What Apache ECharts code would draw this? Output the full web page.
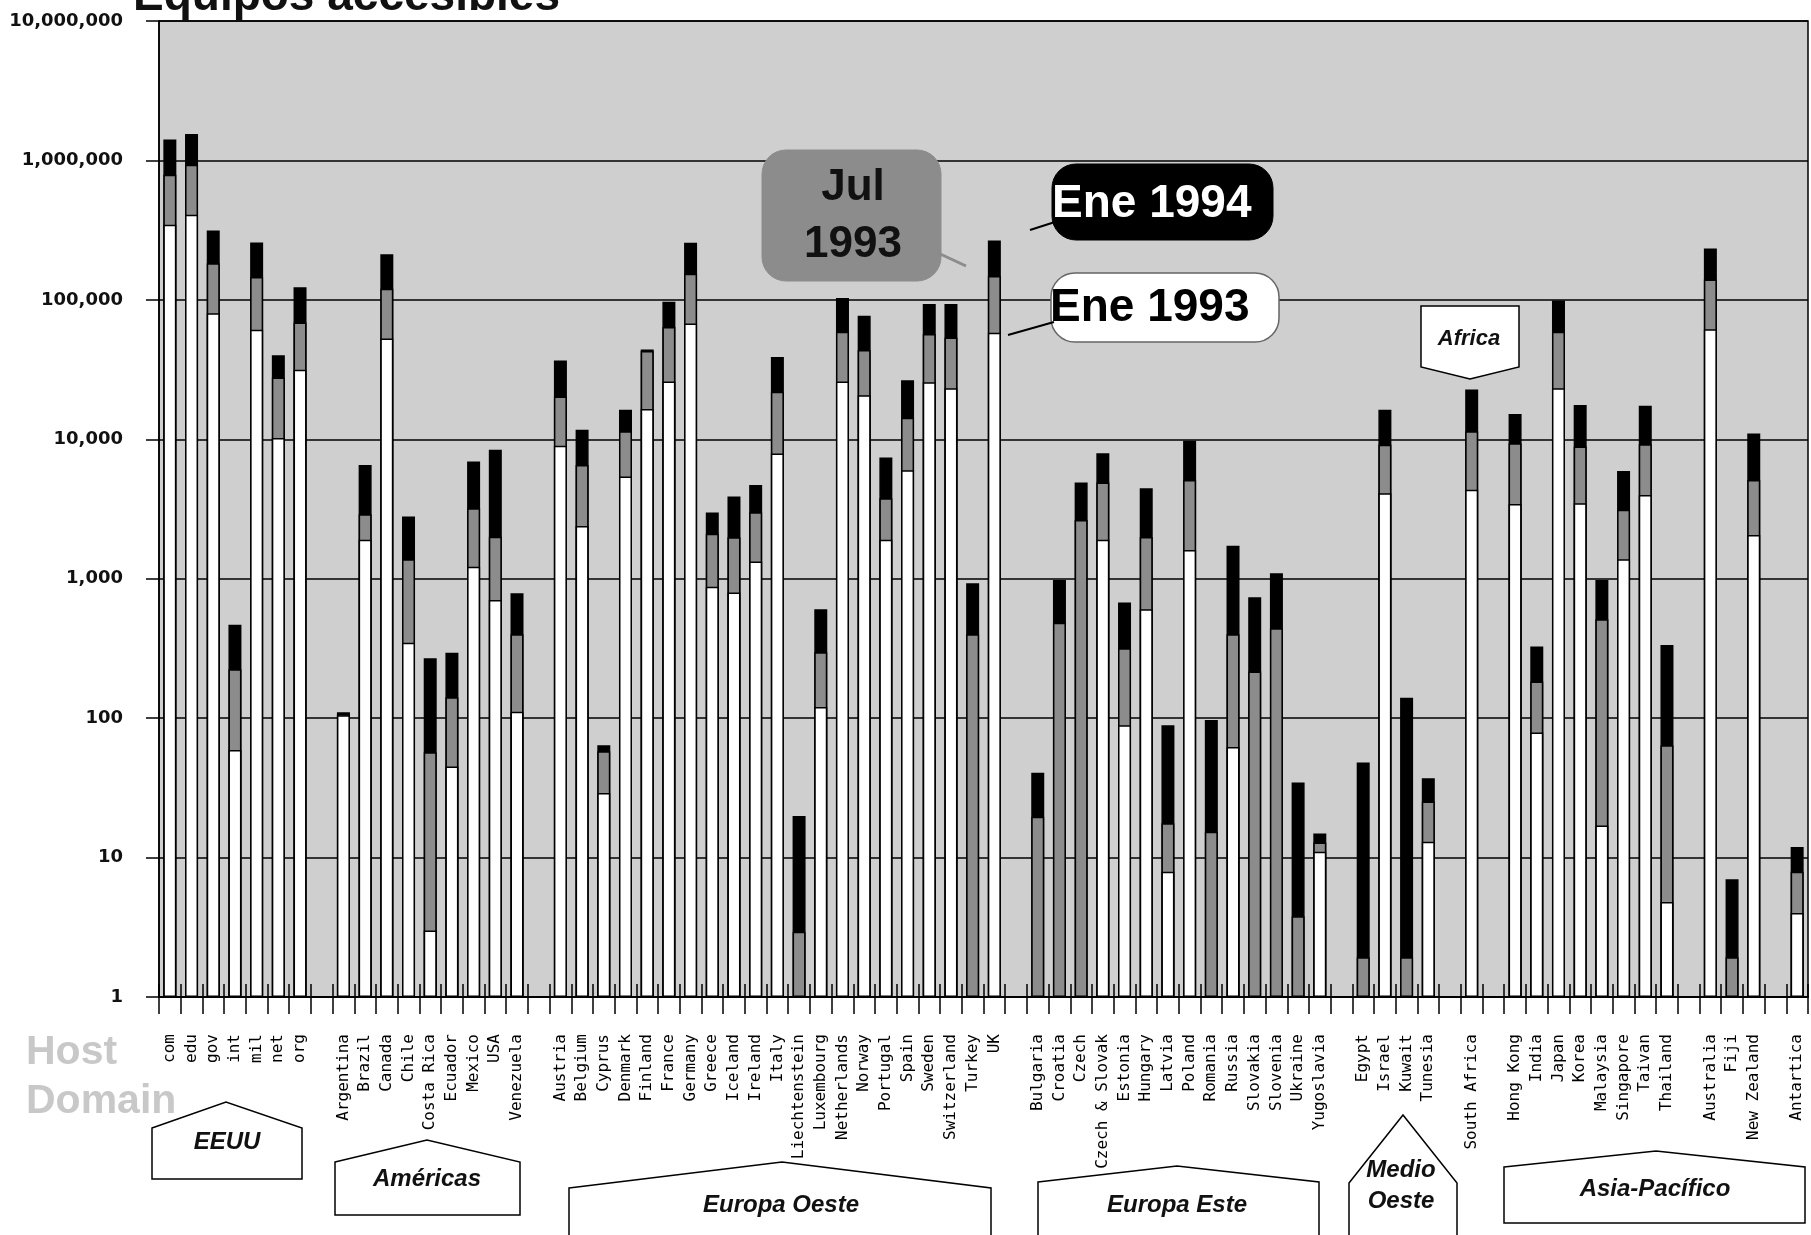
<!DOCTYPE html>
<html>
<head>
<meta charset="utf-8">
<script src="https://cdn.jsdelivr.net/npm/echarts@6/dist/echarts.min.js"></script>
<style>
html,body{margin:0;padding:0;background:#fff;}
#chart{width:1811px;height:1235px;}
</style>
</head>
<body>
<div id="chart"></div>
<script>
// ---- data (empty strings are the spacer slots between regions) ----
const categories = [
  'com','edu','gov','int','mil','net','org','',
  'Argentina','Brazil','Canada','Chile','Costa Rica','Ecuador','Mexico','USA','Venezuela','',
  'Austria','Belgium','Cyprus','Denmark','Finland','France','Germany','Greece','Iceland','Ireland','Italy','Liechtenstein','Luxembourg','Netherlands','Norway','Portugal','Spain','Sweden','Switzerland','Turkey','UK','',
  'Bulgaria','Croatia','Czech','Czech & Slovak','Estonia','Hungary','Latvia','Poland','Romania','Russia','Slovakia','Slovenia','Ukraine','Yugoslavia','',
  'Egypt','Israel','Kuwait','Tunesia','',
  'South Africa','',
  'Hong Kong','India','Japan','Korea','Malaysia','Singapore','Taivan','Thailand','',
  'Australia','Fiji','New Zealand','',
  'Antartica'
];

const ene1993 = [
  345000,408000,80000,59,61000,10200,31500,null,
  105,1900,52800,348,3,45,1220,705,111,null,
  9000,2390,29,5400,16500,26000,67600,877,795,1330,7900,null,120,26000,20700,1900,6000,25600,23200,null,58000,null,
  null,null,null,1900,89,604,7.9,1610,null,62,null,null,null,11,null,
  null,4100,null,13,null,
  4340,null,
  3440,79,23200,3480,17,1380,3990,4.8,null,
  61500,null,2060,null,
  4
];

const jul1993 = [
  789000,930000,183000,224,146000,27700,68800,null,
  107,2900,120000,1380,57,141,3200,2000,400,null,
  20300,6550,58,11400,43000,64000,154000,2100,1980,3000,21900,2.94,297,59000,43600,3780,14300,57000,53800,400,148000,null,
  19.6,484,2640,4890,317,1990,17.6,5110,15.3,400,216,442,3.8,12.8,null,
  1.93,9120,1.93,25.2,null,
  11400,null,
  9380,183,59000,8870,512,3120,9220,64,null,
  140000,1.93,5110,null,
  7.9
];

const ene1994 = [
  1410000,1550000,314000,467,258000,40000,123000,null,
  110,6550,212000,2790,269,295,6920,8400,787,null,
  36700,11700,64,16300,44000,97000,257000,2980,3880,4710,38900,19.9,604,103000,77000,7390,26500,93500,93500,929,267000,null,
  40.6,980,4890,7950,674,4460,89,9780,97,1720,737,1095,34.5,14.9,null,
  48,16300,140,37,null,
  22800,null,
  15200,326,99000,17600,980,5930,17400,335,null,
  234000,7.0,11000,null,
  11.9
];

const yTickLabels = ['1','10','100','1,000','10,000','100,000','1,000,000','10,000,000'];
const seriesNames = ['Ene 1994','Jul 1993','Ene 1993'];
const regionNames = ['EEUU','Américas','Europa Oeste','Europa Este','Medio Oeste','Africa','Asia-Pacífico'];

// ---- chart ----
const chart = echarts.init(document.getElementById('chart'), null, {renderer:'canvas'});

function txt(text, x, y, font, fill, align, valign){
  return {type:'text', z:100, style:{text:text, x:x, y:y, font:font, fill:fill,
    textAlign:align||'center', textVerticalAlign:valign||'middle',
    align:align||'center', verticalAlign:valign||'middle'}};
}
function poly(points, fill){
  return {type:'polygon', z:90, shape:{points:points}, style:{fill:fill||'#fff', stroke:'#000', lineWidth:1.5}};
}
function line(x1,y1,x2,y2,color,w){
  return {type:'line', z:95, shape:{x1:x1,y1:y1,x2:x2,y2:y2}, style:{stroke:color, lineWidth:w||2}};
}
const labFont = 'italic bold 24px "Liberation Sans", Arial, sans-serif';
const callFont = 'bold 46px "Liberation Sans", Arial, sans-serif';

const graphics = [
  // title (cut off at top as in the original)
  txt('Equipos accesibles', 133, -3, 'bold 46px "Liberation Sans", Arial, sans-serif', '#111', 'left', 'middle'),
  // Host Domain
  txt('Host', 26, 1053, 'bold 41px "Liberation Sans", Arial, sans-serif', '#c8c8c8', 'left', 'middle'),
  txt('Domain', 26, 1102, 'bold 41px "Liberation Sans", Arial, sans-serif', '#c8c8c8', 'left', 'middle'),
  // callouts
  {type:'rect', z:90, shape:{x:762,y:150,width:179,height:131,r:24}, style:{fill:'#8c8c8c', stroke:'#8c8c8c'}},
  line(936,252,966,266,'#8c8c8c',3),
  txt('Jul', 853, 188, 'bold 44px "Liberation Sans", Arial, sans-serif', '#111'),
  txt('1993', 853, 245, 'bold 44px "Liberation Sans", Arial, sans-serif', '#111'),
  {type:'rect', z:90, shape:{x:1052,y:164,width:221,height:76,r:24}, style:{fill:'#000', stroke:'#000'}},
  line(1030,230,1058,221,'#000',2),
  txt(seriesNames[0], 1052, 204, callFont, '#fff', 'left', 'middle'),
  {type:'rect', z:90, shape:{x:1051,y:273,width:228,height:69,r:24}, style:{fill:'#fff', stroke:'#666', lineWidth:1.5}},
  line(1008,335,1054,322,'#000',2),
  txt(seriesNames[2], 1050, 308, callFont, '#000', 'left', 'middle'),
  // region boxes
  poly([[152,1128],[226,1102],[302,1128],[302,1179],[152,1179]]),
  txt(regionNames[0], 227, 1142, labFont, '#111'),
  poly([[335,1162],[427,1140],[520,1162],[520,1215],[335,1215]]),
  txt(regionNames[1], 427, 1179, labFont, '#111'),
  poly([[569,1188],[782,1162],[991,1188],[991,1245],[569,1245]]),
  txt(regionNames[2], 781, 1205, labFont, '#111'),
  poly([[1038,1182],[1177,1166],[1319,1182],[1319,1245],[1038,1245]]),
  txt(regionNames[3], 1177, 1205, labFont, '#111'),
  poly([[1349,1183],[1403,1115],[1457,1183],[1457,1245],[1349,1245]]),
  txt('Medio', 1401, 1170, labFont, '#111'),
  txt('Oeste', 1401, 1201, labFont, '#111'),
  poly([[1421,306],[1519,306],[1519,367],[1470,379],[1421,367]]),
  txt(regionNames[5], 1469, 339, 'italic bold 22px "Liberation Sans", Arial, sans-serif', '#111'),
  poly([[1504,1167],[1656,1151],[1805,1167],[1805,1223],[1504,1223]]),
  txt(regionNames[6], 1655, 1189, labFont, '#111')
];

const barCommon = {type:'bar', barWidth:13, barGap:'-100%', animation:false, emphasis:{disabled:true}};

chart.setOption({
  animation:false,
  backgroundColor:'#ffffff',
  grid:{left:159, right:3, top:21, bottom:238, show:true, backgroundColor:'#cfcfcf', borderColor:'#000', borderWidth:1.5},
  xAxis:[{
    type:'category', data:categories, boundaryGap:true,
    axisLine:{show:true, lineStyle:{color:'#000', width:2}},
    axisTick:{show:true, interval:0, length:17, lineStyle:{color:'#000', width:1.5}},
    axisLabel:{interval:0, rotate:90, margin:37, color:'#000', fontSize:16, fontFamily:'"DejaVu Sans Mono", monospace'},
    splitLine:{show:false}
  },{
    type:'category', data:categories, boundaryGap:true, position:'bottom', offset:0,
    axisLine:{show:false},
    axisTick:{show:true, inside:true, interval:0, length:13, lineStyle:{color:'#000', width:1.5}},
    axisLabel:{show:false}, splitLine:{show:false}
  }],
  yAxis:{
    type:'log', logBase:10, min:1, max:10000000,
    axisLine:{show:true, lineStyle:{color:'#000', width:1.5}},
    axisTick:{show:true, length:13, lineStyle:{color:'#000', width:1.5}},
    splitLine:{show:true, lineStyle:{color:'#000', width:1.5}},
    axisLabel:{margin:36, color:'#111', fontSize:18, fontWeight:'bold', fontFamily:'"DejaVu Sans", sans-serif',
      formatter:function(v){ const i = Math.round(Math.log10(v)); return yTickLabels[i] !== undefined ? yTickLabels[i] : ''; }}
  },
  series:[
    Object.assign({}, barCommon, {name:seriesNames[0], data:ene1994, itemStyle:{color:'#000000', borderColor:'#000', borderWidth:1.5}}),
    Object.assign({}, barCommon, {name:seriesNames[1], data:jul1993, itemStyle:{color:'#8c8c8c', borderColor:'#000', borderWidth:1.5}}),
    Object.assign({}, barCommon, {name:seriesNames[2], data:ene1993, itemStyle:{color:'#ffffff', borderColor:'#000', borderWidth:1.5}})
  ],
  graphic:{elements:graphics}
});
</script>
</body>
</html>
